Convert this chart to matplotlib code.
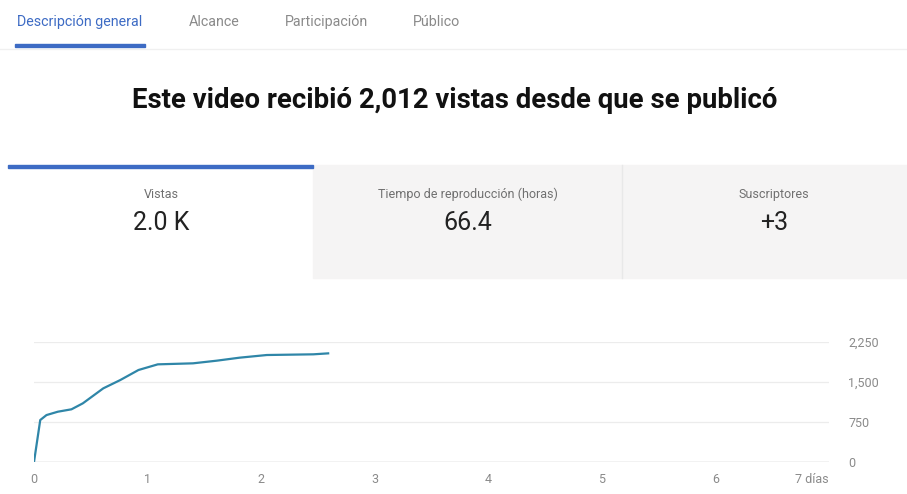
import matplotlib.pyplot as plt
from matplotlib.patches import Rectangle

plt.rcParams['font.family'] = ['Roboto', 'DejaVu Sans']

# cumulative views by day since publication
days = [0, 0.055, 0.11, 0.21, 0.33, 0.43, 0.61, 0.76, 0.92, 1.09, 1.40, 1.61, 1.81, 2.05, 2.46, 2.59]
views = [0, 787, 880, 943, 988, 1100, 1381, 1537, 1725, 1831, 1850, 1900, 1956, 2006, 2019, 2037]

tabs = ["Descripción general", "Alcance", "Participación", "Público"]
tab_x = [80, 214, 326, 437]
cards = ["Vistas", "Tiempo de reproducción (horas)", "Suscriptores"]
card_values = ["2.0 K", "66.4", "+3"]
card_x = [161, 468, 774]

x_ticks = [0, 1, 2, 3, 4, 5, 6, 7]
x_labels = ["0", "1", "2", "3", "4", "5", "6", "7 días"]
y_ticks = [0, 750, 1500, 2250]
y_labels = ["0", "750", "1,500", "2,250"]

W, H = 907, 494
fig = plt.figure(figsize=(W / 100, H / 100), dpi=100)


def px(x, y):
    return x / W, 1 - y / H


# tabs
for i, (t, x) in enumerate(zip(tabs, tab_x)):
    c = '#3d6bc4' if i == 0 else '#8a8a8a'
    fig.text(*px(x, 22), t, ha='center', va='center', fontsize=10.3, color=c)
fig.add_artist(Rectangle(px(15, 47), 130 / W, 3 / H, color='#3d6bc4', transform=fig.transFigure))
fig.add_artist(plt.Line2D([0, 1], [1 - 49 / H] * 2, color='#f0f0f0', lw=1, transform=fig.transFigure))

# title
fig.text(*px(455, 101), "Este video recibió 2,012 vistas desde que se publicó",
         ha='center', va='center', fontsize=19.8, fontweight='bold', color='#111111')

# cards
fig.add_artist(Rectangle(px(313, 278), (W - 313) / W, 113 / H, color='#f5f4f4',
                         transform=fig.transFigure, zorder=0))
fig.add_artist(plt.Line2D([622 / W] * 2, [1 - 278 / H, 1 - 165 / H], color='#e8e8e8', lw=1,
                          transform=fig.transFigure))
fig.add_artist(Rectangle(px(8, 168), 305 / W, 3 / H, color='#3d6bc4', transform=fig.transFigure))
for name, val, x in zip(cards, card_values, card_x):
    fig.text(*px(x, 194), name, ha='center', va='center', fontsize=9, color='#707070')
    fig.text(*px(x, 223), val, ha='center', va='center', fontsize=18, color='#222222')

# chart
ax = fig.add_axes([34 / W, 32 / H, 795 / W, 120 / H])
ax.plot(days, views, color='#2f86a8', lw=1.6)
ax.set_xlim(0, 7)
ax.set_ylim(0, 2250)
for v in y_ticks[1:]:
    ax.axhline(v, color='#ececec', lw=0.9, zorder=0)
ax.axhline(0, color='#bdbdbd', lw=1, zorder=1)
for s in ax.spines.values():
    s.set_visible(False)
ax.set_xticks(x_ticks)
ax.set_xticklabels(x_labels)
for lbl in ax.get_xticklabels()[-1:]:
    lbl.set_ha('right')
ax.set_yticks(y_ticks)
ax.set_yticklabels(y_labels)
ax.yaxis.tick_right()
ax.tick_params(length=0, labelsize=9, labelcolor='#8a8a8a')
ax.tick_params(axis='y', pad=14)
ax.tick_params(axis='x', pad=8)

fig.savefig('out.png', dpi=100)
